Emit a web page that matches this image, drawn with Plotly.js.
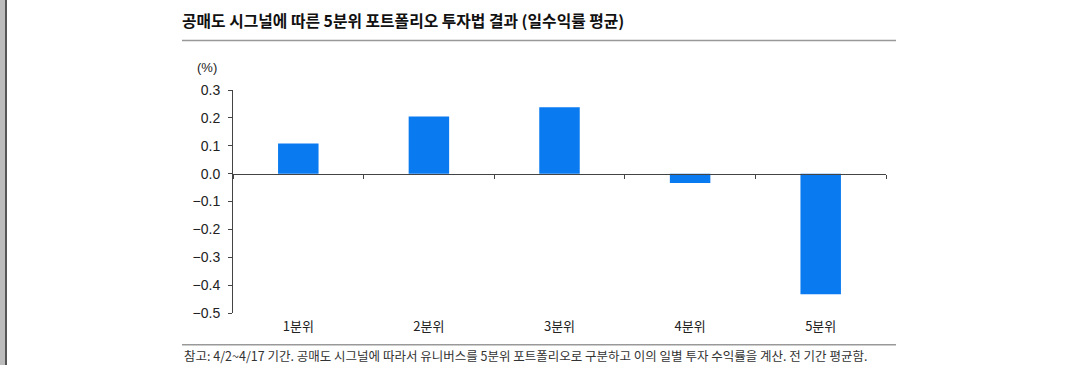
<!DOCTYPE html>
<html>
<head>
<meta charset="utf-8">
<script src="https://cdn.plot.ly/plotly-3.0.1.min.js"></script>
<style>
html,body{margin:0;padding:0;background:#fff;}
#wrap{position:relative;width:1071px;height:365px;}
#chart{width:1071px;height:365px;}
#lb1{position:absolute;left:0;top:0;width:5px;height:365px;background:#bcbcbc;}
#lb2{position:absolute;left:5px;top:0;width:2px;height:365px;background:#555;}
</style>
</head>
<body>
<div id="wrap"><div id="chart"></div><div id="lb1"></div><div id="lb2"></div></div>
<script>
// ---- data ----
const categories = ['1분위', '2분위', '3분위', '4분위', '5분위'];
const returns = [0.108, 0.205, 0.238, -0.034, -0.433];
const yTicks = [0.3, 0.2, 0.1, 0.0, -0.1, -0.2, -0.3, -0.4, -0.5];
const titleText = '공매도 시그널에 따른 5분위 포트폴리오 투자법 결과 (일수익률 평균)';
const unitText = '(%)';
const noteText = '참고: 4/2~4/17 기간. 공매도 시그널에 따라서 유니버스를 5분위 포트폴리오로 구분하고 이의 일별 투자 수익률을 계산. 전 기간 평균함.';

// ---- layout geometry ----
const W = 1071, H = 365;
const L = 233, R = 886, T = 90, B = 313.3;
const yMin = -0.5, yMax = 0.3;
const pw = R - L, ph = B - T;
const px = x => (x - L) / pw;
const py = y => (B - y) / ph;
const zeroPos = (0 - yMin) / (yMax - yMin);

const font = '"Liberation Sans", "Noto Sans CJK KR", Arial, sans-serif';
const kfont = '"Noto Sans CJK KR", "Liberation Sans", sans-serif';

const traces = [
  {
    type: 'bar', x: categories, y: returns,
    marker: {color: '#0a7af0', line: {width: 0}},
    hoverinfo: 'x+y', xaxis: 'x', yaxis: 'y'
  },
  {
    type: 'scatter', mode: 'markers', x: categories, y: returns,
    marker: {opacity: 0}, hoverinfo: 'skip', showlegend: false,
    xaxis: 'x2', yaxis: 'y'
  }
];

const layout = {
  width: W, height: H,
  margin: {l: L, r: W - R, t: T, b: H - B, pad: 0},
  paper_bgcolor: '#fff', plot_bgcolor: '#fff',
  showlegend: false,
  bargap: 0.69,
  font: {family: font, color: '#222', size: 14},
  title: {
    text: titleText,
    font: {family: kfont, size: 15.8, color: '#111', weight: 'bold'},
    xref: 'container', yref: 'container',
    x: 182 / W, xanchor: 'left', y: 1 - 21 / H, yanchor: 'middle'
  },
  xaxis: {
    type: 'category', categoryorder: 'array', categoryarray: categories,
    range: [-0.5, 4.5],
    showline: false, ticks: '', showgrid: false, zeroline: false,
    tickfont: {family: kfont, size: 13, color: '#222'},
    ticklabelstandoff: 4
  },
  xaxis2: {
    type: 'category', categoryorder: 'array', categoryarray: categories,
    range: [-0.5, 4.5], overlaying: 'x', anchor: 'free', position: zeroPos,
    showline: true, linecolor: '#444', linewidth: 1,
    ticks: 'outside', tickson: 'boundaries', ticklen: 4, tickcolor: '#444', tickwidth: 1,
    showticklabels: false, showgrid: false, zeroline: false
  },
  yaxis: {
    range: [yMin, yMax], tickvals: yTicks, tickformat: '.1f',
    showline: true, linecolor: '#444', linewidth: 1,
    ticks: 'outside', ticklen: 4, tickcolor: '#444',
    showgrid: false, zeroline: false,
    tickfont: {family: font, size: 14, color: '#222'},
    ticklabelstandoff: 5
  },
  shapes: [
    {type: 'line', xref: 'paper', yref: 'paper', x0: px(182), x1: px(896), y0: py(40.5), y1: py(40.5),
     line: {color: '#999', width: 1.5}},
    {type: 'line', xref: 'paper', yref: 'paper', x0: px(182), x1: px(896), y0: py(345), y1: py(345),
     line: {color: '#999', width: 1.5}}
  ],
  annotations: [
    {text: unitText, xref: 'paper', yref: 'paper', x: px(207), y: py(67), xanchor: 'center', yanchor: 'middle',
     showarrow: false, font: {family: font, size: 13, color: '#222'}},
    {text: noteText, xref: 'paper', yref: 'paper', x: px(182), y: py(356), xanchor: 'left', yanchor: 'middle',
     showarrow: false, font: {family: kfont, size: 12.5, color: '#333'}}
  ]
};

Plotly.newPlot('chart', traces, layout, {displayModeBar: false, staticPlot: true});
</script>
</body>
</html>
